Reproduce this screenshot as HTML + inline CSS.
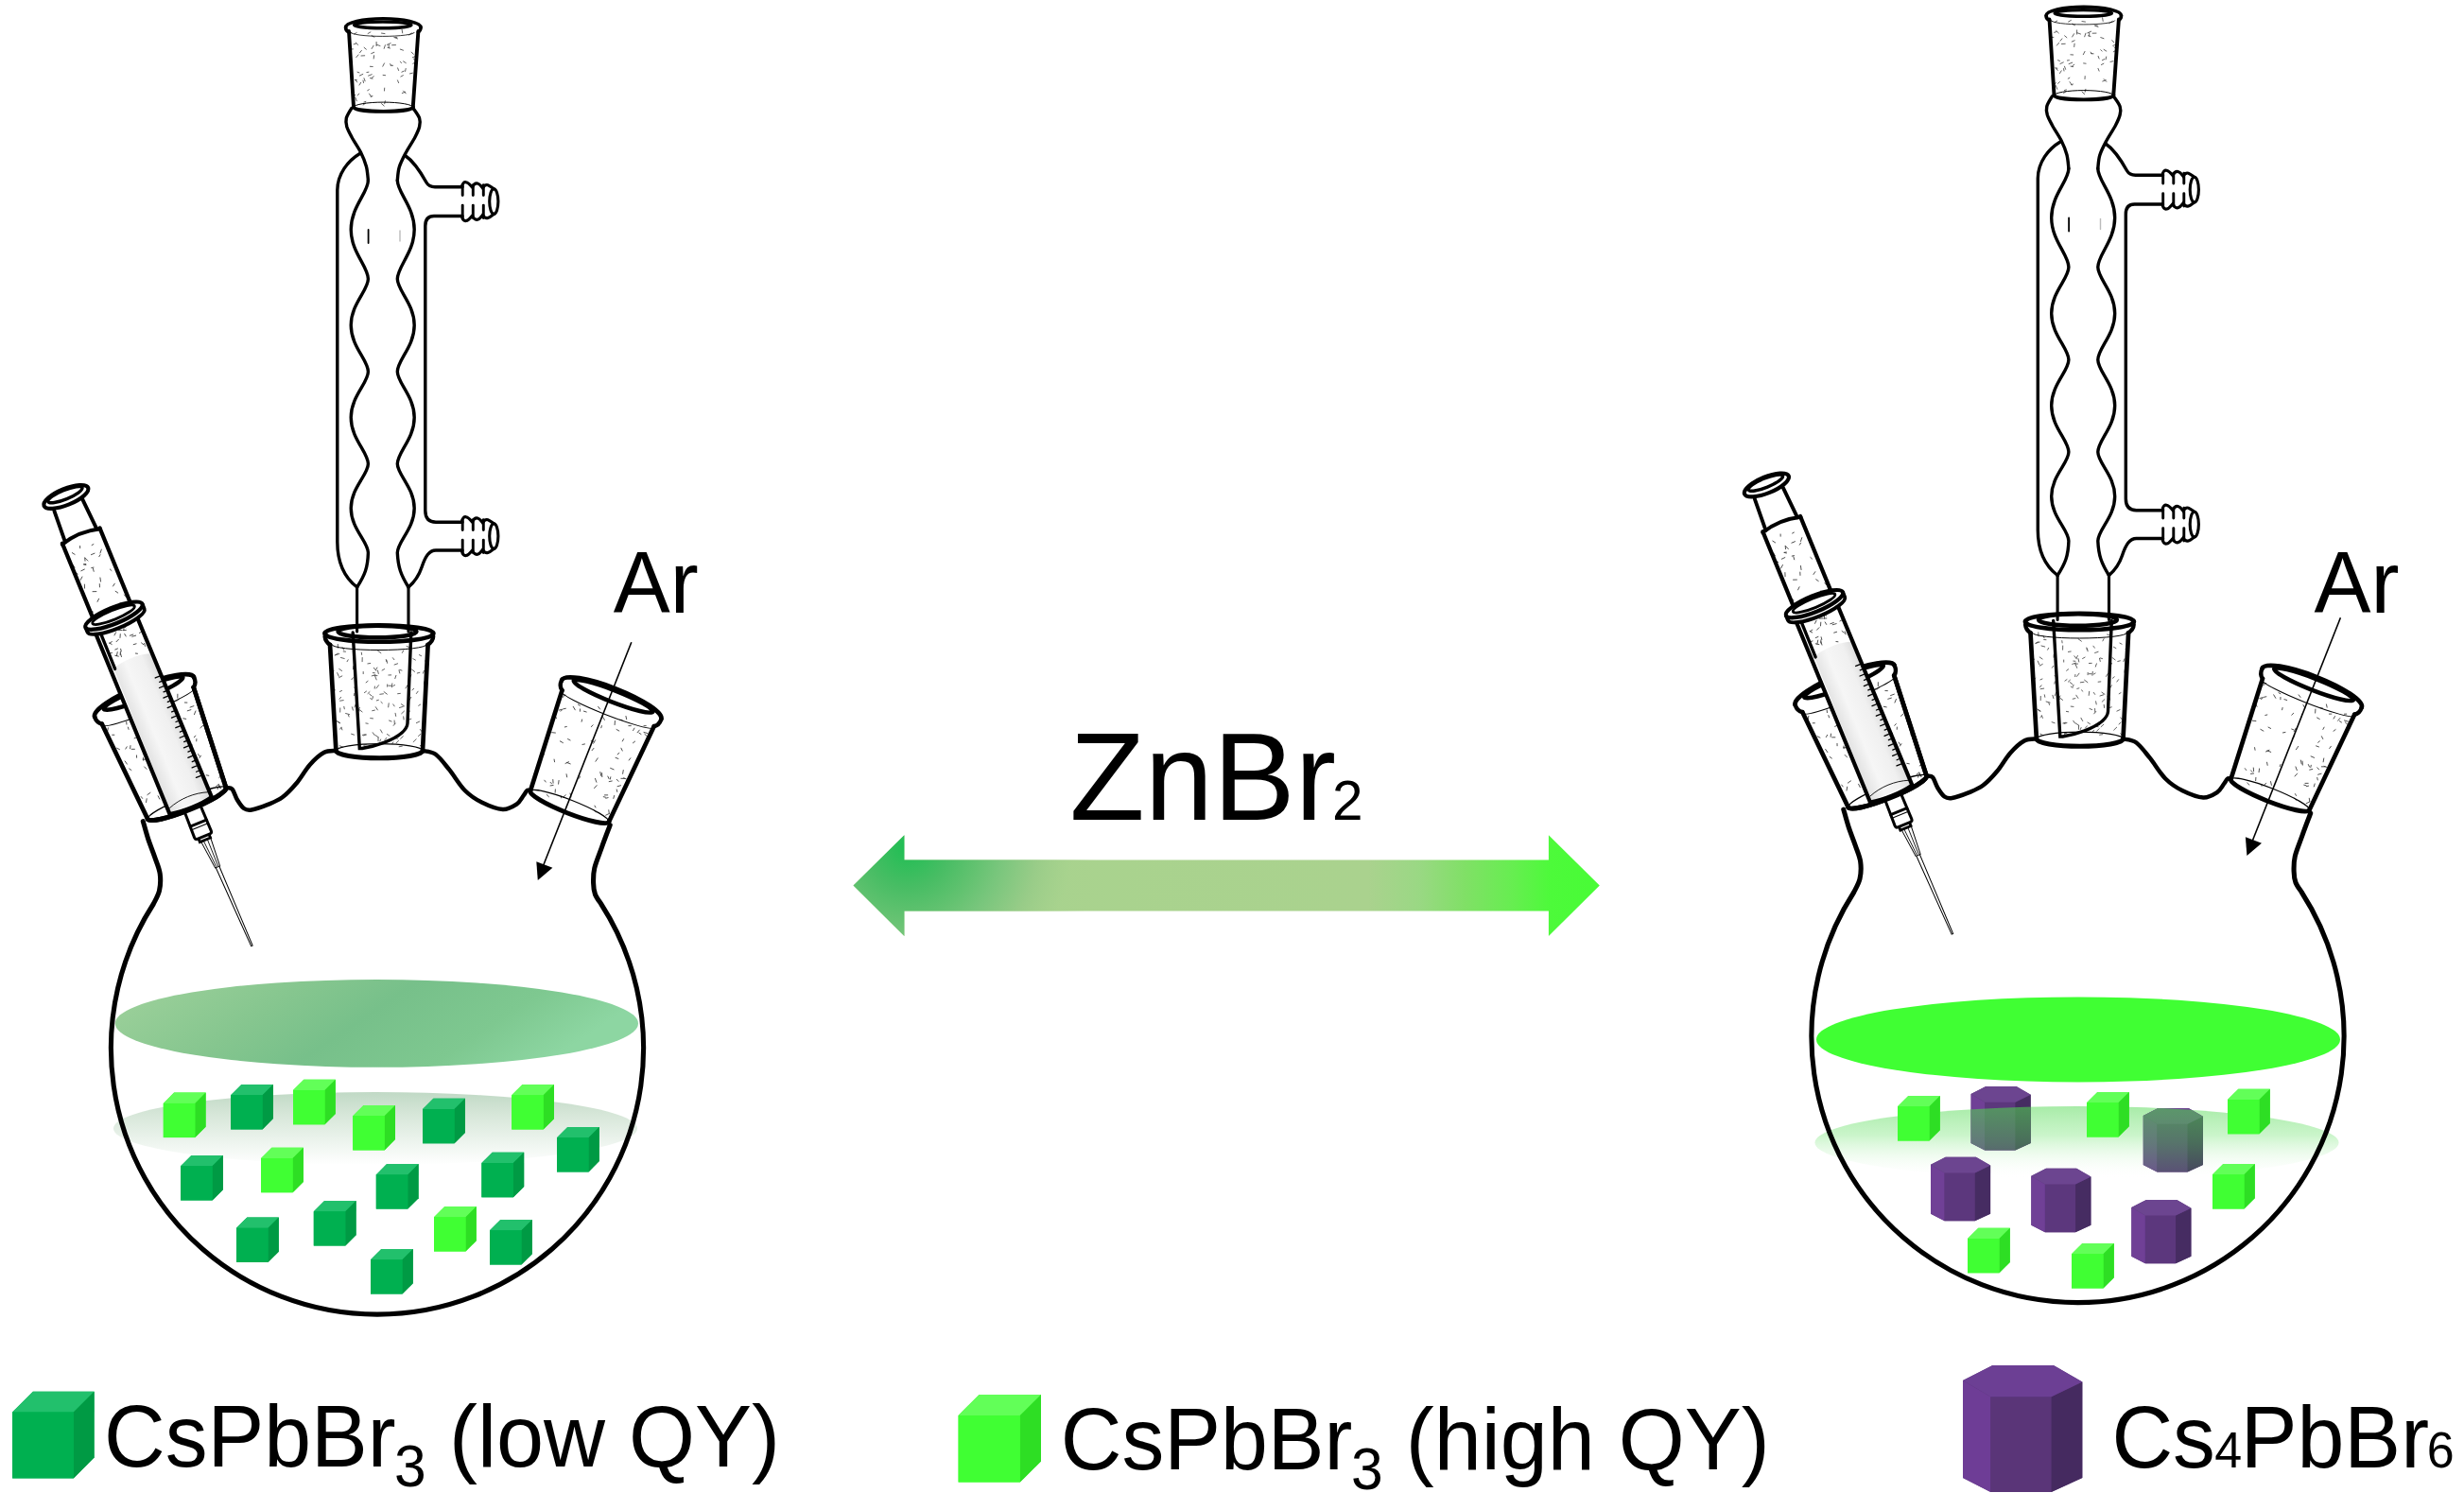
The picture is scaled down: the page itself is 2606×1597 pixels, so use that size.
<!DOCTYPE html>
<html><head><meta charset="utf-8"><title>ZnBr2 flask schematic</title>
<style>html,body{margin:0;padding:0;background:#fff;width:2606px;height:1597px;overflow:hidden}svg{display:block}</style>
</head><body>
<svg width="2606" height="1597" viewBox="0 0 2606 1597">
<defs>
<linearGradient id="gTopL" x1="0" y1="0" x2="1" y2="0.25">
 <stop offset="0" stop-color="#a0d29c"/><stop offset="0.35" stop-color="#86c68f"/>
 <stop offset="0.55" stop-color="#77c08a"/><stop offset="0.8" stop-color="#7ec890"/><stop offset="1" stop-color="#8dd6a2"/>
</linearGradient>
<linearGradient id="gLowL" x1="0" y1="0" x2="0" y2="1">
 <stop offset="0" stop-color="#c0d9c5"/><stop offset="0.3" stop-color="#d6e6d8"/><stop offset="0.7" stop-color="#eef5ef"/><stop offset="1" stop-color="#ffffff"/>
</linearGradient>
<linearGradient id="gLowR" x1="0" y1="0" x2="0" y2="1">
 <stop offset="0" stop-color="#50d850" stop-opacity="0.5"/><stop offset="0.4" stop-color="#60e060" stop-opacity="0.33"/><stop offset="1" stop-color="#ffffff" stop-opacity="0"/>
</linearGradient>
<linearGradient id="gHexOv" x1="0" y1="0" x2="0" y2="1">
 <stop offset="0" stop-color="#50d050" stop-opacity="0.6"/><stop offset="0.5" stop-color="#50d050" stop-opacity="0.4"/><stop offset="1" stop-color="#50d050" stop-opacity="0.12"/>
</linearGradient>
<linearGradient id="gArrow" x1="902" y1="0" x2="1692" y2="0" gradientUnits="userSpaceOnUse">
 <stop offset="0" stop-color="#a8d38e"/>
 <stop offset="0.69" stop-color="#aad28e"/><stop offset="0.757" stop-color="#9ad884"/><stop offset="0.82" stop-color="#80e066"/>
 <stop offset="0.884" stop-color="#66ee50"/><stop offset="0.934" stop-color="#4dfa3a"/><stop offset="1" stop-color="#48fc36"/>
</linearGradient>
<radialGradient id="gArrowHead" cx="960" cy="895" r="200" gradientUnits="userSpaceOnUse">
 <stop offset="0" stop-color="#1ebe53"/><stop offset="0.22" stop-color="#48bd64"/><stop offset="0.37" stop-color="#62c270"/>
 <stop offset="0.49" stop-color="#78c67c"/><stop offset="0.68" stop-color="#98cc88"/><stop offset="0.87" stop-color="#a8d38e" stop-opacity="0.6"/><stop offset="1" stop-color="#a8d38e" stop-opacity="0"/>
</radialGradient>
</defs>
<rect width="2606" height="1597" fill="#fff"/>
<ellipse cx="397" cy="1193.5" rx="277" ry="38.5" fill="url(#gLowL)"/>
<ellipse cx="398.4" cy="1082.4" rx="276.6" ry="46.4" fill="url(#gTopL)"/>
<path d="M172.8,1166.9 L184.1,1155.6 L217.6,1155.6 L217.6,1191.8 L206.3,1203.1 L172.8,1203.1 Z" fill="#40ff33"/><path d="M172.8,1166.9 L184.1,1155.6 L217.6,1155.6 L206.3,1166.9 Z" fill="#62ff58"/><path d="M206.3,1166.9 L217.6,1155.6 L217.6,1191.8 L206.3,1203.1 Z" fill="#2ede24"/><rect x="172.8" y="1166.9" width="33.5" height="36.2" fill="#40ff33"/>
<path d="M244.1,1158.2 L255.4,1146.9 L288.9,1146.9 L288.9,1183.1 L277.6,1194.4 L244.1,1194.4 Z" fill="#00b050"/><path d="M244.1,1158.2 L255.4,1146.9 L288.9,1146.9 L277.6,1158.2 Z" fill="#22c06c"/><path d="M277.6,1158.2 L288.9,1146.9 L288.9,1183.1 L277.6,1194.4 Z" fill="#009a44"/><rect x="244.1" y="1158.2" width="33.5" height="36.2" fill="#00b050"/>
<path d="M310,1153.1 L321.3,1141.8 L354.8,1141.8 L354.8,1178 L343.5,1189.3 L310,1189.3 Z" fill="#40ff33"/><path d="M310,1153.1 L321.3,1141.8 L354.8,1141.8 L343.5,1153.1 Z" fill="#62ff58"/><path d="M343.5,1153.1 L354.8,1141.8 L354.8,1178 L343.5,1189.3 Z" fill="#2ede24"/><rect x="310" y="1153.1" width="33.5" height="36.2" fill="#40ff33"/>
<path d="M373.2,1180.2 L384.5,1168.9 L418,1168.9 L418,1205.1 L406.7,1216.4 L373.2,1216.4 Z" fill="#40ff33"/><path d="M373.2,1180.2 L384.5,1168.9 L418,1168.9 L406.7,1180.2 Z" fill="#62ff58"/><path d="M406.7,1180.2 L418,1168.9 L418,1205.1 L406.7,1216.4 Z" fill="#2ede24"/><rect x="373.2" y="1180.2" width="33.5" height="36.2" fill="#40ff33"/>
<path d="M447.1,1173.1 L458.4,1161.8 L491.9,1161.8 L491.9,1198 L480.6,1209.3 L447.1,1209.3 Z" fill="#00b050"/><path d="M447.1,1173.1 L458.4,1161.8 L491.9,1161.8 L480.6,1173.1 Z" fill="#22c06c"/><path d="M480.6,1173.1 L491.9,1161.8 L491.9,1198 L480.6,1209.3 Z" fill="#009a44"/><rect x="447.1" y="1173.1" width="33.5" height="36.2" fill="#00b050"/>
<path d="M541.2,1158.3 L552.5,1147 L586,1147 L586,1183.2 L574.7,1194.5 L541.2,1194.5 Z" fill="#40ff33"/><path d="M541.2,1158.3 L552.5,1147 L586,1147 L574.7,1158.3 Z" fill="#62ff58"/><path d="M574.7,1158.3 L586,1147 L586,1183.2 L574.7,1194.5 Z" fill="#2ede24"/><rect x="541.2" y="1158.3" width="33.5" height="36.2" fill="#40ff33"/>
<path d="M589,1203.2 L600.3,1191.9 L633.8,1191.9 L633.8,1228.1 L622.5,1239.4 L589,1239.4 Z" fill="#00b050"/><path d="M589,1203.2 L600.3,1191.9 L633.8,1191.9 L622.5,1203.2 Z" fill="#22c06c"/><path d="M622.5,1203.2 L633.8,1191.9 L633.8,1228.1 L622.5,1239.4 Z" fill="#009a44"/><rect x="589" y="1203.2" width="33.5" height="36.2" fill="#00b050"/>
<path d="M191.1,1233.3 L202.4,1222 L235.9,1222 L235.9,1258.2 L224.6,1269.5 L191.1,1269.5 Z" fill="#00b050"/><path d="M191.1,1233.3 L202.4,1222 L235.9,1222 L224.6,1233.3 Z" fill="#22c06c"/><path d="M224.6,1233.3 L235.9,1222 L235.9,1258.2 L224.6,1269.5 Z" fill="#009a44"/><rect x="191.1" y="1233.3" width="33.5" height="36.2" fill="#00b050"/>
<path d="M276.1,1225 L287.4,1213.7 L320.9,1213.7 L320.9,1249.9 L309.6,1261.2 L276.1,1261.2 Z" fill="#40ff33"/><path d="M276.1,1225 L287.4,1213.7 L320.9,1213.7 L309.6,1225 Z" fill="#62ff58"/><path d="M309.6,1225 L320.9,1213.7 L320.9,1249.9 L309.6,1261.2 Z" fill="#2ede24"/><rect x="276.1" y="1225" width="33.5" height="36.2" fill="#40ff33"/>
<path d="M397.8,1242.4 L409.1,1231.1 L442.6,1231.1 L442.6,1267.3 L431.3,1278.6 L397.8,1278.6 Z" fill="#00b050"/><path d="M397.8,1242.4 L409.1,1231.1 L442.6,1231.1 L431.3,1242.4 Z" fill="#22c06c"/><path d="M431.3,1242.4 L442.6,1231.1 L442.6,1267.3 L431.3,1278.6 Z" fill="#009a44"/><rect x="397.8" y="1242.4" width="33.5" height="36.2" fill="#00b050"/>
<path d="M509.4,1230.1 L520.7,1218.8 L554.2,1218.8 L554.2,1255 L542.9,1266.3 L509.4,1266.3 Z" fill="#00b050"/><path d="M509.4,1230.1 L520.7,1218.8 L554.2,1218.8 L542.9,1230.1 Z" fill="#22c06c"/><path d="M542.9,1230.1 L554.2,1218.8 L554.2,1255 L542.9,1266.3 Z" fill="#009a44"/><rect x="509.4" y="1230.1" width="33.5" height="36.2" fill="#00b050"/>
<path d="M250,1298.8 L261.3,1287.5 L294.8,1287.5 L294.8,1323.7 L283.5,1335 L250,1335 Z" fill="#00b050"/><path d="M250,1298.8 L261.3,1287.5 L294.8,1287.5 L283.5,1298.8 Z" fill="#22c06c"/><path d="M283.5,1298.8 L294.8,1287.5 L294.8,1323.7 L283.5,1335 Z" fill="#009a44"/><rect x="250" y="1298.8" width="33.5" height="36.2" fill="#00b050"/>
<path d="M331.8,1281.3 L343.1,1270 L376.6,1270 L376.6,1306.2 L365.3,1317.5 L331.8,1317.5 Z" fill="#00b050"/><path d="M331.8,1281.3 L343.1,1270 L376.6,1270 L365.3,1281.3 Z" fill="#22c06c"/><path d="M365.3,1281.3 L376.6,1270 L376.6,1306.2 L365.3,1317.5 Z" fill="#009a44"/><rect x="331.8" y="1281.3" width="33.5" height="36.2" fill="#00b050"/>
<path d="M459,1287.3 L470.3,1276 L503.8,1276 L503.8,1312.2 L492.5,1323.5 L459,1323.5 Z" fill="#40ff33"/><path d="M459,1287.3 L470.3,1276 L503.8,1276 L492.5,1287.3 Z" fill="#62ff58"/><path d="M492.5,1287.3 L503.8,1276 L503.8,1312.2 L492.5,1323.5 Z" fill="#2ede24"/><rect x="459" y="1287.3" width="33.5" height="36.2" fill="#40ff33"/>
<path d="M518,1301.3 L529.3,1290 L562.8,1290 L562.8,1326.2 L551.5,1337.5 L518,1337.5 Z" fill="#00b050"/><path d="M518,1301.3 L529.3,1290 L562.8,1290 L551.5,1301.3 Z" fill="#22c06c"/><path d="M551.5,1301.3 L562.8,1290 L562.8,1326.2 L551.5,1337.5 Z" fill="#009a44"/><rect x="518" y="1301.3" width="33.5" height="36.2" fill="#00b050"/>
<path d="M392,1332.3 L403.3,1321 L436.8,1321 L436.8,1357.2 L425.5,1368.5 L392,1368.5 Z" fill="#00b050"/><path d="M392,1332.3 L403.3,1321 L436.8,1321 L425.5,1332.3 Z" fill="#22c06c"/><path d="M425.5,1332.3 L436.8,1321 L436.8,1357.2 L425.5,1368.5 Z" fill="#009a44"/><rect x="392" y="1332.3" width="33.5" height="36.2" fill="#00b050"/>
<ellipse cx="2198" cy="1099.4" rx="277" ry="45" fill="#40ff33"/>
<ellipse cx="2196.5" cy="1208.5" rx="277" ry="38.5" fill="url(#gLowR)"/>
<path d="M2084.6,1157 L2100.3,1149 L2132.5,1149 L2147.7,1157.8 L2147.7,1208.9 L2131.4,1216.4 L2099.2,1216.4 L2084.6,1208.9 Z" fill="#5c377d"/><path d="M2084.6,1157 L2099.2,1165.7 L2099.2,1216.4 L2084.6,1208.9 Z" fill="#704096"/><path d="M2099.2,1165.7 L2131.4,1165.7 L2131.4,1216.4 L2099.2,1216.4 Z" fill="#5c377d"/><path d="M2131.4,1165.7 L2147.7,1157.8 L2147.7,1208.9 L2131.4,1216.4 Z" fill="#462c62"/><path d="M2084.6,1157 L2100.3,1149 L2132.5,1149 L2147.7,1157.8 L2131.4,1165.7 L2099.2,1165.7 Z" fill="#6c4590"/>
<path d="M2266.8,1180 L2282.5,1172 L2314.7,1172 L2329.9,1180.8 L2329.9,1231.9 L2313.6,1239.4 L2281.4,1239.4 L2266.8,1231.9 Z" fill="#5c377d"/><path d="M2266.8,1180 L2281.4,1188.7 L2281.4,1239.4 L2266.8,1231.9 Z" fill="#704096"/><path d="M2281.4,1188.7 L2313.6,1188.7 L2313.6,1239.4 L2281.4,1239.4 Z" fill="#5c377d"/><path d="M2313.6,1188.7 L2329.9,1180.8 L2329.9,1231.9 L2313.6,1239.4 Z" fill="#462c62"/><path d="M2266.8,1180 L2282.5,1172 L2314.7,1172 L2329.9,1180.8 L2313.6,1188.7 L2281.4,1188.7 Z" fill="#6c4590"/>
<path d="M2042,1231.8 L2057.7,1223.8 L2089.9,1223.8 L2105.1,1232.6 L2105.1,1283.7 L2088.8,1291.2 L2056.6,1291.2 L2042,1283.7 Z" fill="#5c377d"/><path d="M2042,1231.8 L2056.6,1240.5 L2056.6,1291.2 L2042,1283.7 Z" fill="#704096"/><path d="M2056.6,1240.5 L2088.8,1240.5 L2088.8,1291.2 L2056.6,1291.2 Z" fill="#5c377d"/><path d="M2088.8,1240.5 L2105.1,1232.6 L2105.1,1283.7 L2088.8,1291.2 Z" fill="#462c62"/><path d="M2042,1231.8 L2057.7,1223.8 L2089.9,1223.8 L2105.1,1232.6 L2088.8,1240.5 L2056.6,1240.5 Z" fill="#6c4590"/>
<path d="M2148.3,1243.8 L2164,1235.8 L2196.2,1235.8 L2211.4,1244.6 L2211.4,1295.7 L2195.1,1303.2 L2162.9,1303.2 L2148.3,1295.7 Z" fill="#5c377d"/><path d="M2148.3,1243.8 L2162.9,1252.5 L2162.9,1303.2 L2148.3,1295.7 Z" fill="#704096"/><path d="M2162.9,1252.5 L2195.1,1252.5 L2195.1,1303.2 L2162.9,1303.2 Z" fill="#5c377d"/><path d="M2195.1,1252.5 L2211.4,1244.6 L2211.4,1295.7 L2195.1,1303.2 Z" fill="#462c62"/><path d="M2148.3,1243.8 L2164,1235.8 L2196.2,1235.8 L2211.4,1244.6 L2195.1,1252.5 L2162.9,1252.5 Z" fill="#6c4590"/>
<path d="M2254.3,1276.9 L2270,1268.9 L2302.2,1268.9 L2317.4,1277.7 L2317.4,1328.8 L2301.1,1336.3 L2268.9,1336.3 L2254.3,1328.8 Z" fill="#5c377d"/><path d="M2254.3,1276.9 L2268.9,1285.6 L2268.9,1336.3 L2254.3,1328.8 Z" fill="#704096"/><path d="M2268.9,1285.6 L2301.1,1285.6 L2301.1,1336.3 L2268.9,1336.3 Z" fill="#5c377d"/><path d="M2301.1,1285.6 L2317.4,1277.7 L2317.4,1328.8 L2301.1,1336.3 Z" fill="#462c62"/><path d="M2254.3,1276.9 L2270,1268.9 L2302.2,1268.9 L2317.4,1277.7 L2301.1,1285.6 L2268.9,1285.6 Z" fill="#6c4590"/>
<clipPath id="hexclip"><path d="M2084.6,1157 L2100.3,1149 L2132.5,1149 L2147.7,1157.8 L2147.7,1208.9 L2131.4,1216.4 L2099.2,1216.4 L2084.6,1208.9Z"/><path d="M2266.8,1180 L2282.5,1172 L2314.7,1172 L2329.9,1180.8 L2329.9,1231.9 L2313.6,1239.4 L2281.4,1239.4 L2266.8,1231.9Z"/></clipPath>
<ellipse cx="2196.5" cy="1208.5" rx="277" ry="38.5" fill="url(#gHexOv)" clip-path="url(#hexclip)"/>
<path d="M2007,1170.3 L2018.3,1159 L2051.8,1159 L2051.8,1195.2 L2040.5,1206.5 L2007,1206.5 Z" fill="#40ff33"/><path d="M2007,1170.3 L2018.3,1159 L2051.8,1159 L2040.5,1170.3 Z" fill="#62ff58"/><path d="M2040.5,1170.3 L2051.8,1159 L2051.8,1195.2 L2040.5,1206.5 Z" fill="#2ede24"/><rect x="2007" y="1170.3" width="33.5" height="36.2" fill="#40ff33"/>
<path d="M2207,1166.3 L2218.3,1155 L2251.8,1155 L2251.8,1191.2 L2240.5,1202.5 L2207,1202.5 Z" fill="#40ff33"/><path d="M2207,1166.3 L2218.3,1155 L2251.8,1155 L2240.5,1166.3 Z" fill="#62ff58"/><path d="M2240.5,1166.3 L2251.8,1155 L2251.8,1191.2 L2240.5,1202.5 Z" fill="#2ede24"/><rect x="2207" y="1166.3" width="33.5" height="36.2" fill="#40ff33"/>
<path d="M2356,1163.1 L2367.3,1151.8 L2400.8,1151.8 L2400.8,1188 L2389.5,1199.3 L2356,1199.3 Z" fill="#40ff33"/><path d="M2356,1163.1 L2367.3,1151.8 L2400.8,1151.8 L2389.5,1163.1 Z" fill="#62ff58"/><path d="M2389.5,1163.1 L2400.8,1151.8 L2400.8,1188 L2389.5,1199.3 Z" fill="#2ede24"/><rect x="2356" y="1163.1" width="33.5" height="36.2" fill="#40ff33"/>
<path d="M2340,1242.3 L2351.3,1231 L2384.8,1231 L2384.8,1267.2 L2373.5,1278.5 L2340,1278.5 Z" fill="#40ff33"/><path d="M2340,1242.3 L2351.3,1231 L2384.8,1231 L2373.5,1242.3 Z" fill="#62ff58"/><path d="M2373.5,1242.3 L2384.8,1231 L2384.8,1267.2 L2373.5,1278.5 Z" fill="#2ede24"/><rect x="2340" y="1242.3" width="33.5" height="36.2" fill="#40ff33"/>
<path d="M2081,1310.1 L2092.3,1298.8 L2125.8,1298.8 L2125.8,1335 L2114.5,1346.3 L2081,1346.3 Z" fill="#40ff33"/><path d="M2081,1310.1 L2092.3,1298.8 L2125.8,1298.8 L2114.5,1310.1 Z" fill="#62ff58"/><path d="M2114.5,1310.1 L2125.8,1298.8 L2125.8,1335 L2114.5,1346.3 Z" fill="#2ede24"/><rect x="2081" y="1310.1" width="33.5" height="36.2" fill="#40ff33"/>
<path d="M2191,1326.3 L2202.3,1315 L2235.8,1315 L2235.8,1351.2 L2224.5,1362.5 L2191,1362.5 Z" fill="#40ff33"/><path d="M2191,1326.3 L2202.3,1315 L2235.8,1315 L2224.5,1326.3 Z" fill="#62ff58"/><path d="M2224.5,1326.3 L2235.8,1315 L2235.8,1351.2 L2224.5,1362.5 Z" fill="#2ede24"/><rect x="2191" y="1326.3" width="33.5" height="36.2" fill="#40ff33"/>
<g id="app" stroke-linecap="round">
<path d="M151.3,868.6 C152.2,871.7 154.6,880.8 156.6,887 C158.6,893.2 161.4,899.8 163.5,906 C165.6,912.2 168.4,918 169.2,924 C170,930 169.7,936.7 168.5,942 C167.3,947.3 163.3,953.7 162.3,956 A281.6,281.6 0 1 0 635.7,956 L635.7,956 C634.7,954.3 630.9,949.7 629.5,946 C628.1,942.3 627.7,938.7 627.6,934 C627.5,929.3 627.3,924.3 628.8,918 C630.3,911.7 633.8,903.6 636.5,896 C639.2,888.4 643.8,876.5 645.2,872.6" fill="none" stroke="#000" stroke-width="5.1" stroke-linejoin="round"/>
<path d="M239.4,833.3 C240.4,833.5 243.6,832.4 245.5,834.5 C247.4,836.6 248.9,842.6 251,846 C253.1,849.4 255.5,853.2 258,855 C260.5,856.8 261.7,857.2 266,856.5 C270.3,855.8 278.6,852.8 284,850.6 C289.4,848.4 293.7,846.9 298.6,843.3 C303.5,839.7 308.3,834.6 313.2,828.8 C318.1,823 322.9,814.2 327.8,808.7 C332.7,803.2 337.8,798.5 342.4,796 C347,793.5 353.1,794.3 355.3,794" fill="none" stroke="#000" stroke-width="4.5"/>
<path d="M447,794 C449.3,794.6 456,794.4 460.7,797.8 C465.4,801.2 470.1,807.8 475.3,814.2 C480.5,820.6 485.9,830.2 491.7,836 C497.5,841.8 503.2,845.5 509.9,848.8 C516.6,852.1 525.6,855.7 531.7,856 C537.8,856.3 542.6,853 546.3,850.6 C549.9,848.2 551.8,843.9 553.6,841.5 C555.4,839.1 556,837.5 557,836.5 C558,835.5 559.1,835.9 559.5,835.8" fill="none" stroke="#000" stroke-width="4.5"/>
<path d="M379.9,99.1 l-1.9,1.7M406.5,66.9 l-1.7,3.3M377.2,34.5 l-2.6,1.5M425.1,31.4 l0.6,3.5M386.9,107.4 l-2,0.6M437.4,62.2 l2.3,1.8M370.8,49 l0.6,3M385.1,50.3 l2.3,1.9M391.9,33.9 l-2.8,1.6M418.5,47.6 l-3.9,0.1M379.1,57.9 l-2.3,2.7M439.8,65.5 l-3,1.8M393.2,78.7 l-3.6,1.4M405.1,79.4 l2.5,0.3M426.6,64.9 l2.7,1.7M420.5,84.9 l1.1,2.7M406.7,93.1 l-0.2,2.9M403.5,35.1 l3.5,0.5M398.1,44.4 l0,4.2M427.2,75.1 l-2.3,1.1M407.4,106.8 l-0.7,2.9M389.9,76.2 l-2,0.3M428.7,97.2 l-3.4,1.3M429.2,72.5 l-0.6,2.9M411.2,47.3 l0,3.1M395.6,58.7 l-0.4,3.3M413.1,69.1 l2.5,0.2M383.8,78.4 l-3.4,1.6M426.6,96.1 l2.7,2.8M417.8,39.5 l2,0.1M423.3,52.1 l3.2,1.1M393.1,37.7 l2.8,1.5M382.4,53.4 l-1.9,2.4M391.4,70.3 l2.8,0.2M398.3,47.2 l3.7,1.3M407.4,47.7 l-1.2,3.6M368.9,33.6 l3.2,1.6M381.7,87.3 l-1.7,2.7M386.6,109.1 l-2.5,1.9M385,82.7 l1.1,3.1M391.5,82.6 l2.6,0.5M390.5,99.1 l2.3,3.4M423.3,65.2 l1.4,1.4M435.8,34.9 l-3.5,2.2M413.1,45.7 l-3.8,1.7M420.6,71.9 l1,2.6M384,85.1 l0.5,2.4M375.8,84.4 l1.9,2.5M394,101.5 l-1.9,0.6M385.7,58.8 l-3.7,0.2M395.1,48.2 l-2,3.3M439.6,59.5 l-3.3,1.3M403.5,109.6 l2.7,2.4M376.5,46.1 l-2.4,0.7M426.4,79.7 l-2.5,1.3M395.7,55.3 l-3,1.3M378,76.2 l2,0.7M375.9,100.2 l-3,2.4M395.3,80.7 l-2.2,1.8M410,50.3 l2.5,0.7M436.4,77.2 l-2.9,0.7M390.4,94.7 l-1.7,1M416.8,39.5 l3.7,1.4M373.4,51.9 l-2.9,0.1M376.2,45 l2.6,2.5M375.8,103 l1.5,3.8M435.2,55.1 l2.1,2.2M375.4,84.4 l2,0.3M412.6,67.6 l1.2,1.8M437.7,109.5 l-2.2,0.2" stroke="#3a3a3a" stroke-width="0.80" fill="none"/>
<path d="M365.6,29 A39.7,9.2 0 0 1 445,29" fill="none" stroke="#000" stroke-width="3.6"/>
<path d="M365.6,29 C365.5,31.5 366.8,33 369,34 M445,29 C445,31.5 444,33 442.3,34" fill="none" stroke="#000" stroke-width="3.6"/>
<ellipse cx="404.8" cy="26.4" rx="30.2" ry="3.3" fill="none" stroke="#000" stroke-width="3.4"/>
<path d="M369,33 L374,113 M442.4,33 L436.8,113" fill="none" stroke="#000" stroke-width="3.9"/>
<path d="M373.8,113.3 A31.6,4.6 0 0 0 437,113.3" fill="none" stroke="#000" stroke-width="3.9"/>
<path d="M373.8,113.3 A31.6,5.2 0 0 1 437,113.3" fill="none" stroke="#000" stroke-width="1"/>
<path d="M371.1,34.4 A33.6,4 0 0 0 438.3,34.4" fill="none" stroke="#000" stroke-width="0.80"/>
<path d="M371.8,114.5 C370.9,116.2 367.1,121.8 366.3,125 C365.5,128.2 365.9,130.7 366.8,134 C367.8,137.3 369.6,140.5 372,145 C374.4,149.5 378.9,155.8 381.5,161 C384.1,166.2 386.1,171.1 387.4,176 C388.7,180.9 389.1,188.2 389.4,190.7" fill="none" stroke="#000" stroke-width="3.4"/>
<path d="M437,114.5 C438.1,116.2 442.5,121.8 443.6,125 C444.7,128.2 444.4,130.7 443.6,134 C442.8,137.3 441.4,140.3 439,145 C436.6,149.7 431.8,156.7 429,162 C426.2,167.3 423.6,172.2 422.2,177 C420.8,181.8 420.6,188.4 420.3,190.7" fill="none" stroke="#000" stroke-width="3.4"/>
<path d="M389.4,190.7 C389.4,203.7 371.2,218.8 371.2,242.8 C371.2,266.8 389.4,281.9 389.4,295 C389.4,307.2 371.2,321.5 371.2,344 C371.2,366.5 389.4,380.8 389.4,393 C389.4,405.1 371.2,419.2 371.2,441.5 C371.2,464.1 389.4,478.3 389.4,490.6 C389.4,502.3 371.2,515.9 371.2,537.5 C371.2,559.2 389.4,572.8 389.4,584.6 C389,600 386,608 377.6,621" fill="none" stroke="#000" stroke-width="3.4"/>
<path d="M420.3,190.7 C420.3,203.7 438.2,218.8 438.2,242.8 C438.2,266.8 420.3,281.9 420.3,295 C420.3,307.2 438.2,321.5 438.2,344 C438.2,366.5 420.3,380.8 420.3,393 C420.3,405.1 438.2,419.2 438.2,441.5 C438.2,464.1 420.3,478.3 420.3,490.6 C420.3,502.3 438.2,515.9 438.2,537.5 C438.2,559.2 420.3,572.8 420.3,584.6 C421,600 424,608 432,621" fill="none" stroke="#000" stroke-width="3.4"/>
<path d="M389.6,243 L389.6,257" fill="none" stroke="#000" stroke-width="1.8"/>
<path d="M423,244 L423,255" fill="none" stroke="#bbb" stroke-width="1.4"/>
<path d="M377.6,620 L377.6,668 M432,620 L432,668" fill="none" stroke="#000" stroke-width="3.1"/>
<path d="M380.5,162.5 C368,170 357,184 356.8,201 L356.8,572 C356.6,592 362,609 377.6,621" fill="none" stroke="#000" stroke-width="3.4"/>
<path d="M428.5,164.5 C438,171 446,184 451,193 C453,196.5 455.5,197.7 460,197.7 L489,197.7" fill="none" stroke="#000" stroke-width="3.4"/>
<path d="M489,228.5 L459,228.5 C453,228.5 449.8,232 449.8,239 L449.8,540 C449.8,548 453,552.2 461,552.2 L489,552.2" fill="none" stroke="#000" stroke-width="3.4"/>
<path d="M489,582 L461,582 C454,582 450,588 446,600 C443,609 439,615 432,621" fill="none" stroke="#000" stroke-width="3.4"/>
<path d="M488.5,197.7 C489,193.7 491,192.2 493,192.7 C496,193.2 498,196.7 499.5,198.2 C501,194.7 503,193.5 505,193.9 C508,194.7 509.5,197.7 510.5,198.9 C512,196.2 514,195.2 516,195.7 C519,196.7 521,199.2 522.5,199.9" fill="none" stroke="#000" stroke-width="3.1"/>
<path d="M488.5,228.5 C489,232.5 491,234 493,233.5 C496,233 498,229.5 499.5,228 C501,231.5 503,232.7 505,232.3 C508,231.5 509.5,228.5 510.5,227.3 C512,230 514,231 516,230.5 C519,229.5 521,227 522.5,226.3" fill="none" stroke="#000" stroke-width="3.1"/>
<ellipse cx="522.3" cy="213.1" rx="4.6" ry="13.3" fill="none" stroke="#000" stroke-width="3.1"/>
<path d="M489.2,195.7 L489.2,206.6 M489.2,217.1 L489.2,230.5 M500.3,195.7 L500.3,206.6 M500.3,217.1 L500.3,230.5 M511.3,195.7 L511.3,206.6 M511.3,217.1 L511.3,230.5 " fill="none" stroke="#000" stroke-width="2.9"/>
<path d="M488.5,551.7 C489,547.7 491,546.2 493,546.7 C496,547.2 498,550.7 499.5,552.2 C501,548.7 503,547.5 505,547.9 C508,548.7 509.5,551.7 510.5,552.9 C512,550.2 514,549.2 516,549.7 C519,550.7 521,553.2 522.5,553.9" fill="none" stroke="#000" stroke-width="3.1"/>
<path d="M488.5,582.5 C489,586.5 491,588 493,587.5 C496,587 498,583.5 499.5,582 C501,585.5 503,586.7 505,586.3 C508,585.5 509.5,582.5 510.5,581.3 C512,584 514,585 516,584.5 C519,583.5 521,581 522.5,580.3" fill="none" stroke="#000" stroke-width="3.1"/>
<ellipse cx="522.3" cy="567.1" rx="4.6" ry="13.3" fill="none" stroke="#000" stroke-width="3.1"/>
<path d="M489.2,549.7 L489.2,560.6 M489.2,571.1 L489.2,584.5 M500.3,549.7 L500.3,560.6 M500.3,571.1 L500.3,584.5 M511.3,549.7 L511.3,560.6 M511.3,571.1 L511.3,584.5 " fill="none" stroke="#000" stroke-width="2.9"/>
<path d="M357.3,691.2 l-3.1,1.8M418.9,714.4 l-1.1,3.2M409,698.5 l0.6,2.8M425.3,789.2 l-3.2,0.5M394.4,711.6 l2,0.2M396.7,715.2 l1.5,3.7M402.9,742.3 l1.5,1.4M383.2,695.5 l-0.1,4.2M420.6,701.8 l-3.5,1.2M426.3,778.7 l-2.7,2.5M387.3,787.8 l-2.3,0.3M426.7,757.9 l0.4,3.1M400,780 l0,3.8M387.5,777 l-2.9,0.9M408.9,780.3 l-2,2.3M373.3,716.8 l-1.4,1.9M443.9,711.3 l-2.6,0.7M447.7,757 l0,3.1M415.8,744.9 l1.4,2M402.6,782 l-0.8,2M434.8,760.3 l-2.3,0.7M426.6,688.1 l-1.2,2.3M371.6,776.2 l3,1M435.5,708 l3.1,2.4M391.7,759.6 l2.8,0.3M365.6,754.5 l4,1.1M353.1,709.7 l-2,1.3M368.4,756 l0.7,2M449.6,699 l2.7,0.3M411.5,762 l2.6,1M354.5,729.8 l-2.7,2.4M443.6,763.1 l-3.2,1.5M398.9,706 l-1.3,2.4M361.5,730.5 l-2.1,0.9M409.7,723.9 l-0.1,2.3M448.4,709.3 l-1,2.8M363.2,689 l2.3,0.2M359.8,748.9 l-0.1,4.2M444.2,788.4 l2.2,2M376.3,744.5 l-1.4,3.5M422,708.9 l0.8,3.1M350.2,685.7 l0.6,2.2M422.7,708.4 l2.3,0.7M373.7,704.7 l-0.2,3M380,750.4 l3.1,2.5M394.5,736.7 l-0.5,2M391.7,738.6 l1.9,1.2M432,720.2 l-0.2,4M413.7,713.9 l-2.8,0.1M361.8,714.9 l-3.1,1.7M390.6,734 l2.6,2M356.7,711.6 l1.6,3.7M356.5,762.9 l2.7,1.9M391,731.6 l-2.1,2M360.5,695.5 l3.7,1M416,784.8 l-1.2,1.7M418.2,765 l-2,2.4M387.5,731.1 l-2.1,1.5M405.5,733.8 l-3.7,0.5M444.3,771.4 l1.5,2M399.5,709.1 l0.8,3.4M444.6,745.1 l-1.9,1.2M385,789.1 l2.6,1.3M358.8,691.5 l-4,1.3M415.4,695.7 l1.5,2M418.1,754.3 l0.6,3.1M363.2,740.6 l-3.6,0.6M360.6,737.3 l-1.6,2M442.1,731.2 l-1.7,2.3M408.3,697.5 l0.4,2M409.4,776.5 l2.6,1.7M400.5,724.7 l-2.5,3.2M423.3,733.4 l-2.7,0.3M427.5,752.1 l-2.8,2.6M372.4,747.8 l1,3.3M423.4,775.8 l-1.7,3.4M426.3,747.3 l-3.8,1.2M361.2,769.5 l-1.8,1.6M424.4,744.7 l3.1,2.1M363.8,747.3 l0.5,2.5M406.1,731.7 l3.3,2.5M357.3,681.4 l0.2,3.8M417.1,762 l0.2,3.5M384.2,710.5 l0,2.1M356.6,762.7 l3.1,1.9M431,724.7 l-2,3.2M436.9,696.7 l2.5,1.4M395.8,714.5 l3.2,0.1M448.8,720.8 l-0.3,2.8M394.2,774.7 l1.9,2.8M400.4,740.3 l-2.1,0.6M434.9,713.9 l-1.7,3.4M417.6,724.5 l-1.9,1.1M414.8,722.9 l-0.4,3.9M430.7,749.3 l1.4,2.1M395.3,706.3 l2.6,3.1M360.9,769.3 l1,2.6M382.3,690.1 l0.3,2.3M397,713.6 l-3.8,1.3M396.4,751.1 l-2.7,0.6M358.7,707.5 l2.9,2M389.1,720.3 l-2,1.5M431.9,748.9 l1.2,3.6M386.4,776.7 l-3,0.7M421.6,783.2 l-2.5,2.6M440.2,781.7 l-3,2.9M380.5,748.4 l-1.4,2.4M391.7,701.5 l-2.8,0.4M396.9,777.5 l3.4,2.3M362.3,684.8 l1.3,2.5M444.7,776.5 l-2.2,2M406.6,707.6 l-2.5,1.4M377.8,750.6 l2.4,1.2M443.4,692.6 l2.2,1.1M374.6,727 l1.9,1.9M375.6,707.4 l-0.9,2.6M386.9,764.9 l2.3,0.4M437.7,728.3 l-1.8,1.5M402.4,771.8 l1.8,3.2M413.7,725.2 l-2.9,0M397.3,747.7 l2.1,3.2M411.2,743.8 l-0.5,4.1M396.4,726 l-0.2,2.1M359.2,788.7 l3.7,1.6M418,780.6 l2.6,0.6M430.1,683.5 l2.6,0.9M368.2,697.8 l-1.1,1.9M374.8,733.4 l-0.4,2.3M399.6,688.3 l3.3,2.4M434.9,737.3 l-2.1,3.3" stroke="#3a3a3a" stroke-width="0.80" fill="none"/>
<path d="M373.2,669 L380.3,791.5 L383,791.5 C398,789 416,783 425,775 C429,771.5 430.8,768 431,765 L434.8,669" fill="none" stroke="#000" stroke-width="3.4"/>
<ellipse cx="399" cy="668" rx="41.5" ry="6.3" fill="none" stroke="#000" stroke-width="4.5"/>
<ellipse cx="400.9" cy="670" rx="57.6" ry="8.8" fill="none" stroke="#000" stroke-width="4.5"/>
<path d="M343.6,673 C344,677 346,680 349.3,682 M458.2,673 C458,677 455.5,680 452.2,682" fill="none" stroke="#000" stroke-width="4.4"/>
<path d="M351,682 A50,5.5 0 0 0 451,682" fill="none" stroke="#000" stroke-width="1"/>
<path d="M349,682 L355.4,794 M452.6,682 L447,794" fill="none" stroke="#000" stroke-width="4.7"/>
<path d="M355.4,794 A45.8,7.8 0 0 0 447,794" fill="none" stroke="#000" stroke-width="4.9"/>
<path d="M355.4,794 A45.8,7.4 0 0 1 447,794" fill="none" stroke="#000" stroke-width="1.3"/>
<g transform="translate(197.7,849.8) rotate(-21.8)">
<path d="M-27.4,-52.8 l1.3,3.1M10.9,-103 l3.8,0.2M-23,-84.7 l-3,0M34.8,-59.6 l-1,2.1M13.9,-18.1 l-0.3,3.6M18.7,-104.2 l-2.4,2.3M-18.9,-107.3 l-2.8,1.2M23.6,-16.7 l-2.5,3.1M-11.1,-25.5 l0.7,4M37.5,-100 l2.3,1M48,-64.1 l-1,2.5M0,-69.8 l1.5,2.9M9.7,-14 l-2.2,3.4M37,-4 l-1.2,2M38.3,-6.3 l-3.1,1M23.2,-88 l-2.8,1.6M-20.1,-104.1 l-3.7,1.9M-42.3,-24.7 l0.6,2.2M-20.1,-27.4 l-1.9,0.8M12.5,-106.2 l-1.7,2.1M38.9,-6.2 l-0.1,4.2M-19.1,-102.7 l-0.6,2M-30.5,-67 l-0.8,2.2M-17.6,-6.9 l-2.7,0.9M-3.3,-55.3 l-1.4,3M7.6,-43.3 l-3.1,0.6M-8,-33.1 l2,1.8M4.5,-110.3 l0.9,3.2M14.1,-104.9 l-1.2,2.8M19.4,-73.4 l-2.2,2.9M-47.7,-105.2 l-2.2,3.5M-25,-62 l-0.8,2.6M-14.5,-77.7 l1.3,3M-19.6,-69.9 l-1.6,1.4M6.4,-31.6 l1.4,2.1M29.8,-85 l2.5,1.6M19.5,-100.2 l1.5,2.3M35.1,-63.2 l-2.1,1M-15.3,-40.3 l-2.8,1.1M-27.9,-98.1 l-0.2,2.4M30.2,-20.2 l2.2,1.4M32.5,-41.5 l-2.3,1.6M-36.7,-79.3 l-2.1,1.6M-16,-66.4 l0.7,2.8M40.9,-93.2 l4.1,0.1M38.3,-5.4 l0.8,4M44.9,-87.4 l-2.7,2.8M15.8,-55 l1.7,2.2M-27.4,-103.9 l-0.7,2.5M33.3,-105.7 l-3.4,1.1M44.8,-13.7 l-3.1,1M-32.7,-79 l-1.5,2.8M-8.3,-9.9 l-0.9,2.6M-25.4,-18.8 l0.3,3.7M-14.9,-90.6 l-0.4,3.8M-31.7,-25 l-3.7,0.9M33.8,-111 l-1.5,3.6M-47,-81.9 l2.1,2.4M-7.1,-59.6 l-1.5,1.3M-46.4,-96.7 l2,0.8M-43,-56.9 l1.5,2.3M-14.8,-41.5 l-0.8,2.7M-33,-75.1 l3,1.2M20.9,-69.2 l2.3,0.6M-11.8,-45.6 l-2.2,1.8M30.4,-44.1 l0.6,2.8M-0.8,-35.8 l0.9,3.4M-3.8,-85.3 l-0.4,3.5M-44.2,-66 l0.9,3.8M46.3,-70.2 l-3.5,1.2M-26,-60.6 l3.5,1.4M17.9,-15.2 l-2.8,2.1M22.3,-49.6 l3.1,1M26.9,-105.5 l2.1,0.6M36.9,-90.8 l3.8,0.3M-37.6,-20.5 l-2,3.3M47,-48.1 l-1.7,1.2M28,-55.6 l-1.4,1.7M24.1,-9.3 l2.7,0.5M5.7,-21.4 l1.7,1.7" stroke="#3a3a3a" stroke-width="0.80" fill="none"/>
<path d="M-44.6,0 L-52.2,-111.5 M44.6,0 L52.2,-111.5" fill="none" stroke="#000" stroke-width="4.7"/>
<path d="M-44.6,0 A44.6,7.2 0 0 0 44.6,0" fill="none" stroke="#000" stroke-width="4.9"/>
<path d="M-44.6,0 A44.6,7 0 0 1 44.6,0" fill="none" stroke="#000" stroke-width="1.3"/>
<path d="M-56.5,-121.4 A56.5,12.5 0 0 1 56.5,-121.4" fill="none" stroke="#000" stroke-width="4.7"/>
<ellipse cx="0.5" cy="-125.5" rx="45" ry="6.2" fill="none" stroke="#000" stroke-width="4.5"/>
<path d="M-56.5,-121.6 C-57,-116 -54.5,-113 -52.2,-111.5 M56.5,-121.6 C57,-116 54.5,-113 52.2,-111.5" fill="none" stroke="#000" stroke-width="4.4"/>
<path d="M-52,-110 A52,5.5 0 0 0 52,-110" fill="none" stroke="#000" stroke-width="1"/>
</g>
<g transform="translate(602.4,853) rotate(21.4)">
<path d="M-27.3,-100 l0.8,2.2M-42.4,-67.1 l-3.6,1M27.2,-87.3 l-0.3,2.6M-35,-99.8 l3.2,2.5M34.5,-23.6 l-2,1.4M-18.1,-43.7 l-2.6,2.9M39.3,-102.3 l-1.1,3.3M0.5,-91.9 l0.2,2.2M44.5,-17.8 l-0.4,2.6M43.5,-48.9 l-3.6,1.4M1.3,-66.7 l-0.9,2.8M-33.7,-77.6 l-1.7,1.2M-47.3,-43.6 l2,2.5M-1.7,-73 l-2.4,0M-8.4,-89.3 l-1.1,2.4M-15.6,-30.7 l1.7,2.7M40,-99.3 l2.5,0.5M26,-44.5 l2,1.9M-34.6,-60.7 l3.5,0.5M41.8,-8.4 l-2.8,3M-8.4,-9.9 l-1.4,3.5M-21.3,-90.5 l0.4,2.3M-12.6,-7 l1,1.7M-45.3,-92.6 l-2.2,1.8M-19.9,-99.6 l-2.9,0.2M-31,-103.8 l2.3,0.4M16.5,-94 l3.1,0.4M-27.1,-2.8 l2.9,1.2M29.5,-65.9 l-3,0.1M-27.8,-65.8 l2.9,0.3M-24.3,-14.7 l-2.7,1.6M-48.7,-83.4 l1.8,1.7M-28.3,-16.5 l1.9,0.9M45.1,-49 l-2.9,0.1M42.3,-40.5 l-2.9,2.2M-2.1,-101.2 l3.1,2.4M39.9,-11.6 l1.7,3M31.9,-41.5 l-2.6,1.7M14.4,-37.4 l2.7,3M48.6,-102.2 l-4.1,0.4M18.3,-105.5 l-2.2,0.7M-44.2,-93.4 l-1.3,3M24.4,-10.5 l1.6,1.3M44.1,-109 l-2.1,0.9M33.1,-26 l-3,1.2M39.3,-89.4 l-1.4,2.3M39.8,-28 l0.3,3.1M-47.9,-107.8 l-0.9,2.9M35.9,-44.9 l2.5,1.2M25.4,-53.6 l3.8,0.1M33.6,-102.2 l-0.4,2.8M28.2,-77.4 l2.3,2.1M46,-100.3 l3.2,1.2M38.9,-56.6 l0.8,3.8M29.3,-103.2 l-2.3,0.9M-20.6,-21.5 l0.9,3.6M-34.9,-16.2 l2,1.2M-0.3,-75.4 l-0.5,4M20.6,-110.7 l1.8,2.7M-1.4,-33.8 l0.1,2.2M-26.8,-20.1 l1.6,3.3M16.9,-45.8 l2.2,3.3M-4.5,-13.2 l2.2,3.2M29,-44.9 l0.4,2.3M28.2,-71.9 l-1.1,2M-41.6,-95.1 l-2,1.3M41.3,-71.2 l-0.7,2.7M11.7,-101.8 l1.2,3.9M-33.4,-40.5 l1.4,2.3M-46.7,-108.1 l-3.8,0.6M31.9,-23 l-2.3,0.3M9.1,-58.5 l-0.9,4M24.9,-6 l3.2,1.2M18.6,-31.3 l-1.4,3.6M-20.6,-11.4 l1,3.2M39.8,-35 l1.4,2.1M-15.7,-42.3 l-4,0M-9.1,-67.4 l-2.2,1.4M-10.4,-109.4 l2.7,1.7M18.9,-45.5 l1.7,3.7" stroke="#3a3a3a" stroke-width="0.80" fill="none"/>
<path d="M-44.6,0 L-52.2,-111.5 M44.6,0 L52.2,-111.5" fill="none" stroke="#000" stroke-width="4.7"/>
<path d="M-44.6,0 A44.6,7.2 0 0 0 44.6,0" fill="none" stroke="#000" stroke-width="4.9"/>
<path d="M-44.6,0 A44.6,7 0 0 1 44.6,0" fill="none" stroke="#000" stroke-width="1.3"/>
<path d="M-56.5,-121.4 A56.5,12.5 0 0 1 56.5,-121.4" fill="none" stroke="#000" stroke-width="4.7"/>
<ellipse cx="0.5" cy="-125.5" rx="45" ry="6.2" fill="none" stroke="#000" stroke-width="4.5"/>
<path d="M-56.5,-121.6 C-57,-116 -54.5,-113 -52.2,-111.5 M56.5,-121.6 C57,-116 54.5,-113 52.2,-111.5" fill="none" stroke="#000" stroke-width="4.4"/>
<path d="M-52,-110 A52,5.5 0 0 0 52,-110" fill="none" stroke="#000" stroke-width="1"/>
</g>
<g transform="translate(201.4,849.8) rotate(-22.3)">
<path d="M-0.9,72 L2.2,164 L3.8,164 L3,72" fill="#fff" stroke="#000" stroke-width="1"/>
<path d="M-5,41 L-1.6,73 L3.8,73 L6,41" fill="#fff" stroke="#000" stroke-width="1"/>
<path d="M-2.2,41 L0,72 M2.2,41 L2,72" fill="none" stroke="#000" stroke-width="0.80"/>
<path d="M-6.2,36 L-6.2,41.5 L5.8,41.5 L5.8,36" fill="#fff" stroke="#000" stroke-width="2.9"/>
<path d="M-9,4 L-9.8,35 Q-9.8,37.5 -7.5,37.5 L7,37.5 Q9.3,37.5 9.3,35 L9,4" fill="#fff" stroke="#000" stroke-width="3"/>
<path d="M-9.4,22.5 L9.1,22.5" fill="none" stroke="#000" stroke-width="2.9"/><path d="M-9.4,26.3 L9.1,26.3" fill="none" stroke="#000" stroke-width="1.1"/>
<defs><linearGradient id="liq" x1="0" y1="0" x2="1" y2="0"><stop offset="0" stop-color="#e2e2e2"/><stop offset="0.35" stop-color="#f6f6f6"/><stop offset="0.75" stop-color="#f0f0f0"/><stop offset="1" stop-color="#dcdcdc"/></linearGradient></defs>
<path d="M-24.5,2 L-21,-306 L21.8,-306 L23.4,2 Z" fill="#fff"/>
<path d="M-23,1 L-21,-163 C-8,-167 8,-167 21,-163 L22.5,1 Z" fill="url(#liq)"/>
<path d="M6.5,-203.3 l-3.3,2.4M8.1,-178.4 l3,0.3M18.8,-214.7 l-2.1,0.7M-1,-269.1 l-0.4,3.2M-20.8,-272.9 l2.6,3.1M11.6,-279.6 l-1.9,1.4M2.7,-283.3 l3.9,0M-9.7,-271.7 l-3.9,0.2M-8.2,-174.8 l-0.4,3.5M-10.6,-177.5 l-2.3,3.4M15.3,-261.6 l1,2.1M-15.1,-292.8 l1.9,2.7M-20.5,-211.7 l1.3,2.3M11.9,-237.8 l1.7,2.6M9.2,-292.6 l-2,0.2M8.1,-188.6 l3.7,0.2M-6.4,-223.7 l2.1,0.1M-14.3,-175 l3,2.1M16.5,-176.9 l1.3,2.5M-0.7,-198.2 l3.4,1.2M9.9,-186.8 l4.1,0.5M-15.7,-256.9 l-1.4,3.8M-6.2,-179.3 l-0.4,2.7M-8.5,-276.9 l2.3,0.6M6.6,-168.9 l1.8,1M19.1,-230.8 l0.7,2.4M3.6,-192.4 l0.4,2.9M-19.3,-179.2 l3.1,0.3M14.9,-284.3 l-2.7,3.1M3.8,-196.5 l2.8,1M-14.9,-189.7 l1.8,2.4M21.5,-187.6 l-3,0.2M-0.6,-205 l0.2,2.6M-4.6,-282.6 l1.6,3.9M18.4,-218.6 l0,2.7M-14.9,-265.3 l-3,2.5M-4.2,-197.4 l-2.7,2.3M5.8,-201.3 l1.5,3.2M-7.4,-237.1 l-2.6,2.3M-7.5,-176.6 l-1.5,2.9M-20.8,-229 l2.5,2.5M-0.6,-193.9 l-1.7,3.4M-4.8,-216.4 l-2.6,2.8M-4.4,-189.4 l-3.2,1.4M19.1,-175.3 l-0.2,3.2M-11.9,-189.9 l-3,0.6M8.4,-205.9 l-1.6,1.8M11.9,-224.6 l-1.5,2.5M5.7,-199.4 l-1.5,3.3M-19.2,-280.6 l0.6,3.4M-10.8,-210.4 l-0.8,1.9M-2.3,-270.3 l2.3,0.4M-8.2,-276.6 l1.7,1.2M-0.8,-251.3 l-1.1,3.1M-11.9,-180.8 l2.9,0M-10.6,-246.6 l3.6,1.4M-4.7,-296.3 l-0.8,2.1M2.3,-257.2 l-1,4M14.2,-245.6 l-2.8,1.9M-4.7,-282.8 l-1,3.1" stroke="#3a3a3a" stroke-width="0.80" fill="none"/>
<path d="M-19.5,-210 L-19.8,-162" fill="none" stroke="#000" stroke-width="3.4"/>
<path d="M16,-137 L23,-137 M18.5,-131.3 L23,-131.3 M16,-125.6 L23,-125.6 M18.5,-119.9 L23,-119.9 M16,-114.2 L23,-114.2 M18.5,-108.5 L23,-108.5 M16,-102.8 L23,-102.8 M18.5,-97.1 L23,-97.1 M16,-91.4 L23,-91.4 M18.5,-85.7 L23,-85.7 M16,-80 L23,-80 M18.5,-74.3 L23,-74.3 M16,-68.6 L23,-68.6 M18.5,-62.9 L23,-62.9 M16,-57.2 L23,-57.2 M18.5,-51.5 L23,-51.5 M16,-45.8 L23,-45.8 M18.5,-40.1 L23,-40.1 M16,-34.4 L23,-34.4 M18.5,-28.7 L23,-28.7 M16,-23 L23,-23 " fill="none" stroke="#000" stroke-width="1.3"/>
<path d="M-24.5,2 L-24.5,-205 M23.4,2 L22.6,-205" fill="none" stroke="#000" stroke-width="4.2"/>
<path d="M-21,-222 L-21,-306 M21.8,-222 L21.8,-306" fill="none" stroke="#000" stroke-width="4.2"/>
<path d="M-24.5,2 C-10,5 10,5 23.4,2" fill="none" stroke="#000" stroke-width="3.9"/>
<path d="M-22,-4 C-8,-9 8,-9 22,-4" fill="none" stroke="#000" stroke-width="0.80"/>
<path d="M-21.5,-305 C-8,-309 8,-309 22,-305" fill="none" stroke="#000" stroke-width="3.9"/>
<path d="M-17.6,-306 L-15.8,-341 M18.5,-306 L16.5,-341" fill="none" stroke="#000" stroke-width="3.9"/>
<ellipse cx="1.4" cy="-350" rx="25.2" ry="8.6" fill="#fff" stroke="#000" stroke-width="4.2"/>
<ellipse cx="1.4" cy="-352.5" rx="19.5" ry="4.8" fill="none" stroke="#000" stroke-width="3.4"/>
<path d="M-32,-214 L-32,-209 A32.5,8.5 0 0 0 33,-209 L33,-214" fill="#fff" stroke="#000" stroke-width="3.9"/>
<ellipse cx="0.5" cy="-214.5" rx="32.5" ry="8.5" fill="#fff" stroke="#000" stroke-width="4.2"/>
<ellipse cx="0.5" cy="-215.5" rx="24" ry="5" fill="none" stroke="#000" stroke-width="2.9"/>
</g>
<g transform="translate(197.7,849.8) rotate(-21.8)">
<path d="M44.6,0 L52.2,-111.5" fill="none" stroke="#000" stroke-width="4.7"/>
<path d="M-44.6,0 A44.6,7.2 0 0 0 44.6,0" fill="none" stroke="#000" stroke-width="4.9"/>
</g>
</g>
<use href="#app" transform="translate(1798.5,-12.5)"/>
<g transform="translate(0,0)">
<path d="M667.8,679.3 L572,922" stroke="#000" stroke-width="1.6" fill="none"/>
<path d="M568.8,931 L567.3,911.2 L584.4,917.8 Z" fill="#000"/>
</g>
<g transform="translate(1807.6,-26)">
<path d="M667.8,679.3 L572,922" stroke="#000" stroke-width="1.6" fill="none"/>
<path d="M568.8,931 L567.3,911.2 L584.4,917.8 Z" fill="#000"/>
</g>
<text style="font-family:'Liberation Sans', sans-serif" fill="#000" font-size="90" transform="translate(648.8,647.8) scale(1,1.025)">Ar</text>
<text style="font-family:'Liberation Sans', sans-serif" fill="#000" font-size="90" transform="translate(2447.5,648.1) scale(1,1.025)">Ar</text>
<text style="font-family:'Liberation Sans', sans-serif" fill="#000" font-size="130" transform="translate(1131.3,867.1) scale(1,1.02)">ZnBr</text>
<text style="font-family:'Liberation Sans', sans-serif" fill="#000" font-size="58.5" transform="translate(1409.1,867.1) scale(1,1.02)">2</text>
<path d="M902.5,936.6 L956.4,883.2 L956.4,909.5 L1637.9,909.5 L1637.9,883.2 L1691.8,936.6 L1637.9,989.9 L1637.9,963.6 L956.4,963.6 L956.4,989.9 Z" fill="url(#gArrow)"/>
<path d="M902.5,936.6 L956.4,883.2 L956.4,909.5 L1637.9,909.5 L1637.9,883.2 L1691.8,936.6 L1637.9,989.9 L1637.9,963.6 L956.4,963.6 L956.4,989.9 Z" fill="url(#gArrowHead)"/>
<path d="M13.1,1493.5 L34.9,1471.7 L99.6,1471.7 L99.6,1541.6 L77.8,1563.4 L13.1,1563.4 Z" fill="#00b050"/><path d="M13.1,1493.5 L34.9,1471.7 L99.6,1471.7 L77.8,1493.5 Z" fill="#22c06c"/><path d="M77.8,1493.5 L99.6,1471.7 L99.6,1541.6 L77.8,1563.4 Z" fill="#009a44"/><rect x="13.1" y="1493.5" width="64.7" height="69.9" fill="#00b050"/>
<path d="M1013.6,1497 L1035.6,1475 L1101,1475 L1101,1545.6 L1078.9,1567.6 L1013.6,1567.6 Z" fill="#40ff33"/><path d="M1013.6,1497 L1035.6,1475 L1101,1475 L1078.9,1497 Z" fill="#62ff58"/><path d="M1078.9,1497 L1101,1475 L1101,1545.6 L1078.9,1567.6 Z" fill="#2ede24"/><rect x="1013.6" y="1497" width="65.3" height="70.6" fill="#40ff33"/>
<path d="M2076,1460 L2107.4,1444 L2171.9,1444 L2202.3,1461.4 L2202.3,1563.1 L2169.6,1578.1 L2105.3,1578.1 L2076,1563.1 Z" fill="#5a3578"/><path d="M2076,1460 L2105.3,1477.3 L2105.3,1578.1 L2076,1563.1 Z" fill="#6e3d96"/><path d="M2105.3,1477.3 L2169.6,1477.3 L2169.6,1578.1 L2105.3,1578.1 Z" fill="#5a3578"/><path d="M2169.6,1477.3 L2202.3,1461.4 L2202.3,1563.1 L2169.6,1578.1 Z" fill="#452a60"/><path d="M2076,1460 L2107.4,1444 L2171.9,1444 L2202.3,1461.4 L2169.6,1477.3 L2105.3,1477.3 Z" fill="#6c3f94"/>
<text style="font-family:'Liberation Sans', sans-serif" fill="#000" font-size="89.6" transform="translate(110,1551.1) scale(1,1.03)">CsPbBr</text>
<text style="font-family:'Liberation Sans', sans-serif" fill="#000" font-size="60.5" transform="translate(417,1571.7) scale(1,1.03)">3</text>
<text style="font-family:'Liberation Sans', sans-serif" fill="#000" font-size="90" transform="translate(475,1551.1) scale(1,1.03)">(low QY)</text>
<text style="font-family:'Liberation Sans', sans-serif" fill="#000" font-size="89.6" transform="translate(1121.7,1554.4) scale(1,1.03)">CsPbBr</text>
<text style="font-family:'Liberation Sans', sans-serif" fill="#000" font-size="60.5" transform="translate(1429.1,1575) scale(1,1.03)">3</text>
<text style="font-family:'Liberation Sans', sans-serif" fill="#000" font-size="90" transform="translate(1486.7,1554.4) scale(1,1.03)">(high QY)</text>
<text style="font-family:'Liberation Sans', sans-serif" fill="#000" font-size="89.6" transform="translate(2233.4,1551.5) scale(1,1.03)">Cs</text>
<text style="font-family:'Liberation Sans', sans-serif" fill="#000" font-size="52" transform="translate(2342.3,1551.5) scale(1,1.03)">4</text>
<text style="font-family:'Liberation Sans', sans-serif" fill="#000" font-size="89.6" transform="translate(2369.8,1551.5) scale(1,1.03)">PbBr</text>
<text style="font-family:'Liberation Sans', sans-serif" fill="#000" font-size="52" transform="translate(2566.8,1551.5) scale(1,1.03)">6</text>
</svg>
</body></html>
